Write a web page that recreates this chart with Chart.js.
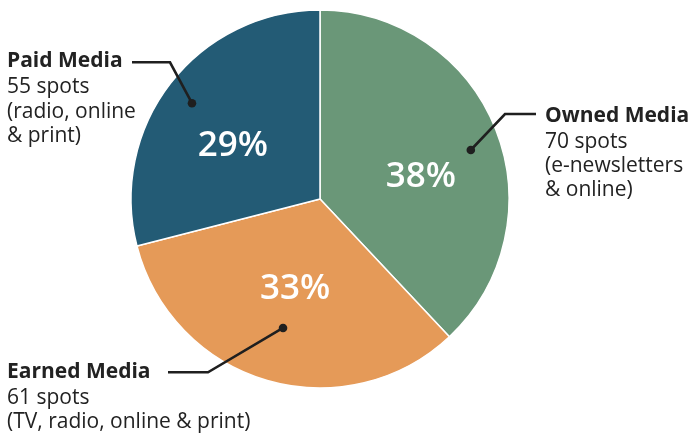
<!DOCTYPE html>
<html>
<head>
<meta charset="utf-8">
<script src="https://cdn.jsdelivr.net/npm/chart.js@4.4.1/dist/chart.umd.min.js"></script>
<style>
html,body{margin:0;padding:0;background:#fff;}
#wrap{width:691px;height:434px;position:relative;}
</style>
</head>
<body>
<div id="wrap"><canvas id="c" width="691" height="434"></canvas></div>
<script>
// ---- data ----
const categories = ["Owned Media", "Earned Media", "Paid Media"];
const percents = [38, 33, 29];
const spots = [70, 61, 55];
const spotLabels = spots.map(s => s + " spots");
const detailLines = [
  ["(e-newsletters", "& online)"],
  ["(TV, radio, online & print)"],
  ["(radio, online", "& print)"]
];
const colors = ["#6a9778", "#e59a58", "#235b75"];

// ---- annotation layout (styling / placement only) ----
const pctPlace = [ {r:0.55, da:7.7}, {r:0.48, da:-0.3}, {r:0.545, da:-5.5} ];
const dotPlace = [ {r:0.839, da:3.6}, {r:0.71, da:-0.2}, {r:0.846, da:-1.0} ];
const callouts = [
  {elbow:[505,114], end:[536,114], tx:545, ty:121.5},
  {elbow:[208,372.3], end:[168,372.3], tx:7, ty:378},
  {elbow:[170,62.3], end:[132,62.3], tx:7, ty:67.3}
];
const FONT = '"Open Sans", "Noto Sans", sans-serif';

const annot = {
  id: 'annot',
  afterDraw(chart) {
    const ctx = chart.ctx;
    const arcs = chart.getDatasetMeta(0).data;
    arcs.forEach((arc, i) => {
      const p = arc.getProps(['x','y','startAngle','endAngle','outerRadius'], true);
      const mid = (p.startAngle + p.endAngle) / 2;
      // percent label
      const pa = mid + pctPlace[i].da * Math.PI / 180;
      const pr = p.outerRadius * pctPlace[i].r;
      const px = p.x + Math.cos(pa) * pr, py = p.y + Math.sin(pa) * pr;
      ctx.save();
      ctx.fillStyle = '#ffffff';
      ctx.font = '600 35px ' + FONT;
      ctx.textAlign = 'center';
      ctx.textBaseline = 'alphabetic';
      ctx.fillText(percents[i] + '%', px, py + 12.5);
      ctx.restore();
      // leader line
      const da = mid + dotPlace[i].da * Math.PI / 180;
      const dr = p.outerRadius * dotPlace[i].r;
      const dx = p.x + Math.cos(da) * dr, dy = p.y + Math.sin(da) * dr;
      const c = callouts[i];
      ctx.save();
      ctx.strokeStyle = '#1f1f1f';
      ctx.lineWidth = 2.6;
      ctx.lineJoin = 'miter';
      ctx.beginPath();
      ctx.moveTo(dx, dy);
      ctx.lineTo(c.elbow[0], c.elbow[1]);
      ctx.lineTo(c.end[0], c.end[1]);
      ctx.stroke();
      ctx.fillStyle = '#1f1f1f';
      ctx.beginPath();
      ctx.arc(dx, dy, 4.3, 0, Math.PI * 2);
      ctx.fill();
      // text
      ctx.textAlign = 'left';
      ctx.textBaseline = 'alphabetic';
      ctx.fillStyle = '#222222';
      ctx.font = 'bold 21px ' + FONT;
      ctx.fillText(categories[i], c.tx, c.ty);
      ctx.font = '21px ' + FONT;
      let y = c.ty + 26;
      ctx.fillText(spotLabels[i], c.tx, y);
      detailLines[i].forEach(line => { y += 24.2; ctx.fillText(line, c.tx, y); });
      ctx.restore();
    });
  }
};

new Chart(document.getElementById('c'), {
  type: 'pie',
  data: {
    labels: categories,
    datasets: [{
      data: percents,
      backgroundColor: colors,
      borderColor: '#ffffff',
      borderWidth: 1.5,
      hoverOffset: 0
    }]
  },
  options: {
    responsive: false,
    animation: false,
    devicePixelRatio: 1,
    layout: { padding: { top: 9.25, bottom: 45.25, left: 130.25, right: 181.25 } },
    plugins: { legend: { display: false }, tooltip: { enabled: false } },
    events: []
  },
  plugins: [annot]
});
</script>
</body>
</html>
